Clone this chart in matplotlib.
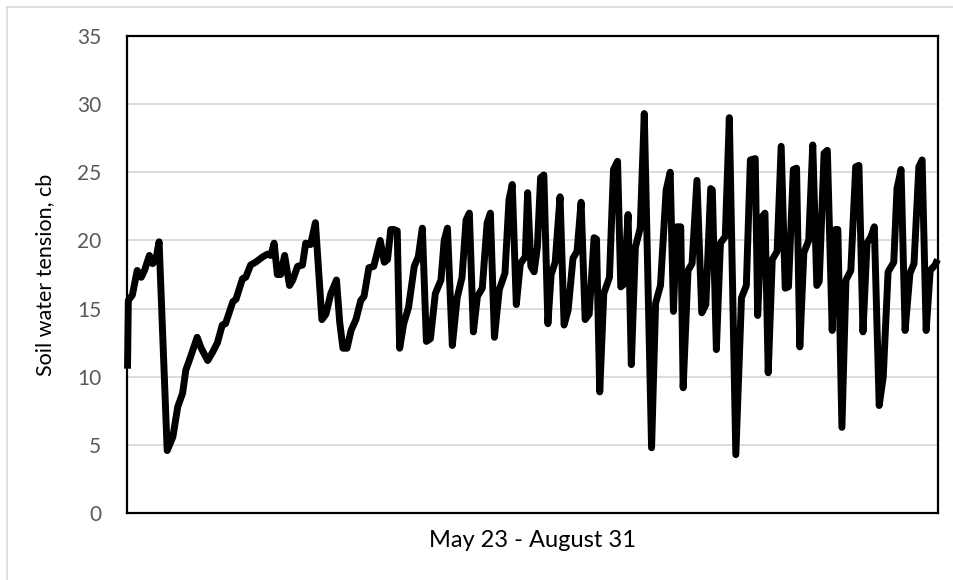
import matplotlib
matplotlib.use("Agg")
import matplotlib.pyplot as plt
from matplotlib.lines import Line2D

# Day offset from May 23 (0 = May 23, 100 = August 31)
day = [
    0.0, 0.1, 0.6, 1.2, 1.7, 2.1, 2.7, 3.1, 3.5, 3.9,
    4.9, 5.6, 6.2, 6.8, 7.2, 7.8, 8.6, 9.1, 9.9, 10.5,
    11.1, 11.7, 12.1, 13.0, 13.4, 14.2, 14.6, 15.2, 15.8, 16.7,
    17.3, 17.7, 18.1, 18.5, 18.9, 19.4, 20.0, 20.4, 21.0, 21.6,
    22.0, 22.6, 23.2, 24.0, 24.5, 25.1, 25.8, 26.2, 26.6, 27.1,
    27.6, 28.2, 28.8, 29.2, 29.8, 30.4, 31.2, 31.7, 32.1, 32.5,
    32.9, 33.3, 33.6, 34.1, 34.7, 35.4, 35.9, 36.4, 36.9, 37.4,
    38.0, 38.7, 39.1, 39.5, 40.1, 40.7, 41.3, 41.8, 42.2, 42.7,
    43.2, 43.8, 44.4, 44.8, 45.3, 45.9, 46.6, 47.1, 47.5, 48.0,
    48.5, 49.1, 49.4, 49.8, 50.2, 50.6, 51.0, 51.4, 51.9, 52.3,
    52.8, 53.4, 53.9, 54.4, 55.0, 55.5, 56.0, 56.5, 57.0, 57.6,
    57.9, 58.3, 58.8, 59.5, 60.0, 60.5, 60.9, 61.3, 61.8, 62.2,
    62.7, 63.3, 63.8, 64.7, 65.2, 65.8, 66.5, 67.0, 67.4, 67.8,
    68.3, 68.6, 69.2, 69.7, 70.3, 70.9, 71.4, 72.0, 72.2, 72.7,
    73.2, 73.8, 74.3, 75.1, 75.8, 76.4, 76.9, 77.5, 77.8, 78.3,
    78.7, 79.1, 79.6, 80.2, 80.7, 81.2, 81.6, 82.2, 82.6, 83.0,
    83.5, 84.1, 84.6, 85.1, 85.4, 86.0, 86.4, 87.0, 87.4, 87.7,
    88.2, 88.7, 89.3, 89.9, 90.3, 90.8, 91.3, 91.8, 92.2, 92.8,
    93.3, 93.9, 94.6, 95.0, 95.5, 96.0, 96.6, 97.1, 97.7, 98.1,
    98.6, 99.1, 99.7, 100.0,
]

tension = [
    10.6, 15.6, 16.0, 17.8, 17.3, 17.8, 18.9, 18.3, 18.6, 19.9,
    4.6, 5.6, 7.8, 8.8, 10.5, 11.5, 12.9, 12.1, 11.2, 11.8,
    12.5, 13.8, 13.9, 15.5, 15.7, 17.2, 17.3, 18.2, 18.4, 18.8,
    19.0, 18.9, 19.8, 17.5, 17.5, 18.9, 16.7, 17.1, 18.1, 18.2,
    19.8, 19.7, 21.3, 14.2, 14.6, 16.1, 17.1, 14.0, 12.1, 12.1,
    13.4, 14.2, 15.6, 15.9, 18.0, 18.1, 20.0, 18.4, 18.6, 20.8,
    20.8, 20.7, 12.1, 13.9, 15.1, 18.1, 18.8, 20.9, 12.6, 12.8,
    16.1, 17.1, 20.0, 20.9, 12.3, 15.8, 17.3, 21.5, 22.0, 13.3,
    15.9, 16.5, 21.3, 22.0, 12.9, 16.4, 17.6, 23.0, 24.1, 15.3,
    18.3, 18.8, 23.5, 18.1, 17.7, 19.5, 24.6, 24.8, 13.9, 17.5,
    18.4, 23.2, 13.8, 14.9, 18.7, 19.2, 22.8, 14.2, 14.6, 20.2,
    20.1, 8.9, 16.1, 17.3, 25.2, 25.8, 16.6, 16.8, 21.9, 10.9,
    19.5, 20.9, 29.3, 4.8, 15.4, 16.7, 23.7, 25.0, 14.8, 21.0,
    21.0, 9.2, 17.8, 18.3, 24.4, 14.7, 15.3, 23.8, 23.7, 12.0,
    19.8, 20.3, 29.0, 4.3, 15.8, 16.7, 25.9, 26.0, 14.5, 21.7,
    22.0, 10.3, 18.6, 19.2, 26.9, 16.5, 16.6, 25.2, 25.3, 12.2,
    19.1, 20.0, 27.0, 16.7, 17.0, 26.4, 26.6, 13.4, 20.8, 20.8,
    6.3, 17.1, 17.8, 25.4, 25.5, 13.3, 19.8, 20.3, 21.0, 7.9,
    10.0, 17.7, 18.4, 23.8, 25.2, 13.4, 17.6, 18.3, 25.4, 25.9,
    13.4, 17.8, 18.2, 18.6,
]

y_ticks = [0, 5, 10, 15, 20, 25, 30, 35]
x_label = "May 23 - August 31"
y_label = "Soil water tension, cb"

plt.rcParams['font.family'] = ['Lato', 'DejaVu Sans']

fig = plt.figure(figsize=(9.54, 5.8), dpi=100)
fig.patch.set_facecolor('white')

# outer chart border (light gray, top and left visible)
fig.add_artist(Line2D([7/954, 1.0], [1 - 7/580, 1 - 7/580], transform=fig.transFigure,
                      color='#d9d9d9', lw=1.2))
fig.add_artist(Line2D([7/954, 7/954], [0.0, 1 - 7/580], transform=fig.transFigure,
                      color='#d9d9d9', lw=1.2))

ax = fig.add_axes([127.5/954, 1 - 513.3/580, (937.5 - 127.5)/954, (513.3 - 35.8)/580])
ax.plot(day, tension, color='black', lw=5.0, solid_joinstyle='round',
        solid_capstyle='butt', clip_on=False, zorder=3)

ax.set_xlim(0, 100)
ax.set_ylim(0, 35)
ax.set_yticks(y_ticks)
ax.set_xticks([])
ax.grid(axis='y', color='#d9d9d9', lw=1.3, zorder=0)
ax.set_axisbelow(True)
for s in ax.spines.values():
    s.set_color('black')
    s.set_linewidth(1.6)
ax.tick_params(axis='y', length=0, pad=19, labelsize=15, labelcolor='#595959')
ax.set_xlabel(x_label, fontsize=17, color='black', labelpad=12)
ax.set_ylabel(y_label, fontsize=15.5, color='black', labelpad=16)

fig.savefig('out.png', dpi=100)
